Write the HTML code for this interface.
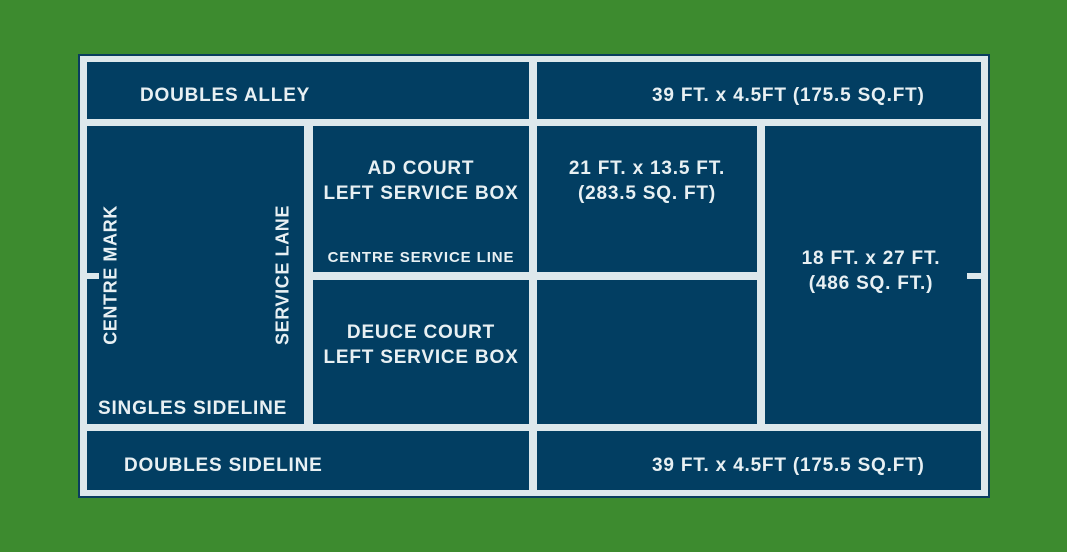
<!DOCTYPE html>
<html><head><style>
body{margin:0;width:1067px;height:552px;background:#3d8b2f;position:relative;overflow:hidden;font-family:"Liberation Sans",sans-serif;}
.o{position:absolute;left:78px;top:54px;width:912px;height:444px;background:#0a3d5e;}
.w{position:absolute;left:80px;top:56px;width:908px;height:440px;background:#dde8ec;}
.b{position:absolute;background:#023e62;color:#e8f0f3;font-weight:bold;font-size:19px;letter-spacing:0.8px;}
.t{position:absolute;white-space:nowrap;text-align:center;line-height:25px;}
.tick{position:absolute;background:#dde8ec;height:6px;}
.v{position:absolute;white-space:nowrap;transform:translate(-50%,-50%) rotate(-90deg);color:#e8f0f3;font-weight:bold;font-size:18px;letter-spacing:0.6px;}
</style></head><body>
<div class="o"></div><div class="w"></div>
<div class="b" style="left:87px;top:62px;width:442px;height:57px"><div class="t" style="left:53px;top:21px">DOUBLES ALLEY</div></div>
<div class="b" style="left:537px;top:62px;width:444px;height:57px"><div class="t" style="left:115px;top:21px">39 FT. x 4.5FT (175.5 SQ.FT)</div></div>
<div class="b" style="left:87px;top:126px;width:217px;height:298px"><div class="t" style="left:11px;top:270px">SINGLES SIDELINE</div></div>
<div class="b" style="left:313px;top:126px;width:216px;height:146px"><div class="t" style="left:0;width:216px;top:30px">AD COURT<br>LEFT SERVICE BOX</div><div class="t" style="left:0;width:216px;top:119px;font-size:15px;letter-spacing:0.9px">CENTRE SERVICE LINE</div></div>
<div class="b" style="left:313px;top:280px;width:216px;height:144px"><div class="t" style="left:0;width:216px;top:40px">DEUCE COURT<br>LEFT SERVICE BOX</div></div>
<div class="b" style="left:537px;top:126px;width:220px;height:146px"><div class="t" style="left:0;width:220px;top:30px">21 FT. x 13.5 FT.<br>(283.5 SQ. FT)</div></div>
<div class="b" style="left:537px;top:280px;width:220px;height:144px"></div>
<div class="b" style="left:765px;top:126px;width:216px;height:298px"><div class="t" style="left:-2px;width:216px;top:120px">18 FT. x 27 FT.<br>(486 SQ. FT.)</div></div>
<div class="b" style="left:87px;top:431px;width:442px;height:59px"><div class="t" style="left:37px;top:22px">DOUBLES SIDELINE</div></div>
<div class="b" style="left:537px;top:431px;width:444px;height:59px"><div class="t" style="left:115px;top:22px">39 FT. x 4.5FT (175.5 SQ.FT)</div></div>
<div class="tick" style="left:86px;top:273px;width:13px"></div>
<div class="tick" style="left:967px;top:273px;width:15px"></div>
<div class="v" style="left:111px;top:275px">CENTRE MARK</div>
<div class="v" style="left:283px;top:275px">SERVICE LANE</div>
</body></html>
